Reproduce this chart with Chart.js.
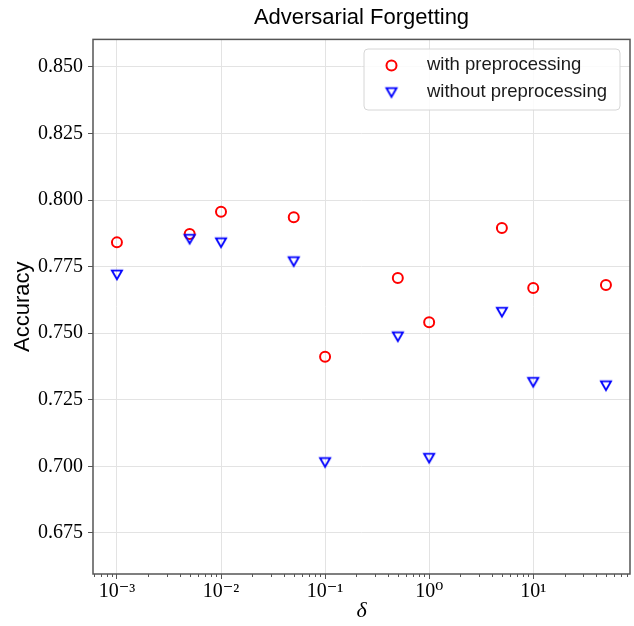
<!DOCTYPE html>
<html>
<head>
<meta charset="utf-8">
<script src="https://cdn.jsdelivr.net/npm/chart.js@4"></script>
<style>
html,body{margin:0;padding:0;background:#fff;}
#wrap{width:634px;height:626px;}
</style>
</head>
<body>
<div id="wrap"><canvas id="c" width="634" height="626"></canvas></div>
<script>
const deltas = [0.001, 0.005, 0.01, 0.05, 0.1, 0.5, 1, 5, 10, 50];
const withPre = [0.7841, 0.7872, 0.7956, 0.7935, 0.7412, 0.7707, 0.7541, 0.7895, 0.7670, 0.7681];
const withoutPre = [0.7719, 0.7853, 0.7840, 0.7769, 0.7015, 0.7487, 0.7031, 0.7579, 0.7316, 0.7303];
const yTicks = [0.675, 0.700, 0.725, 0.750, 0.775, 0.800, 0.825, 0.850];
const xTicks = [0.001, 0.01, 0.1, 1, 10];
const xTickLabels = ['10\u207B\u00B3', '10\u207B\u00B2', '10\u207B\u00B9', '10\u2070', '10\u00B9'];
const seriesLabels = ['with preprocessing', 'without preprocessing'];
const titleText = 'Adversarial Forgetting';

const SANS = "'Liberation Sans', Arial, Helvetica, sans-serif";
const SERIF = "'Liberation Serif', 'DejaVu Serif', serif";
const AXIS = '#555555';
const GRID = '#e3e3e3';

function triCanvas() {
  const cv = document.createElement('canvas');
  cv.width = 16; cv.height = 16;
  const g = cv.getContext('2d');
  g.strokeStyle = '#0000ff';
  g.lineWidth = 1.9;
  g.lineJoin = 'miter';
  g.beginPath();
  g.moveTo(3, 3.6);
  g.lineTo(13, 3.6);
  g.lineTo(8, 12.4);
  g.closePath();
  g.stroke();
  return cv;
}
const tri = triCanvas();

function zeroPad(s) { s.paddingLeft = 0; s.paddingRight = 0; s.paddingTop = 0; s.paddingBottom = 0; }

const framePlugin = {
  id: 'frame',
  afterDatasetsDraw(chart) {
    const {ctx, chartArea: a} = chart;
    const xs = chart.scales.x;
    ctx.save();
    // minor log ticks
    ctx.strokeStyle = AXIS;
    ctx.lineWidth = 1;
    for (let d = -4; d <= 2; d++) {
      for (let k = 2; k <= 9; k++) {
        const v = k * Math.pow(10, d);
        if (v < xs.min || v > xs.max) continue;
        const px = Math.round(xs.getPixelForValue(v)) + 0.5;
        ctx.beginPath();
        ctx.moveTo(px, a.bottom);
        ctx.lineTo(px, a.bottom + 3);
        ctx.stroke();
      }
    }
    ctx.strokeStyle = AXIS;
    ctx.lineWidth = 1.5;
    ctx.strokeRect(a.left, a.top, a.right - a.left, a.bottom - a.top);
    // legend
    const bx = 364, by = 49, bw = 256, bh = 61, r = 4;
    ctx.beginPath();
    ctx.moveTo(bx + r, by);
    ctx.arcTo(bx + bw, by, bx + bw, by + bh, r);
    ctx.arcTo(bx + bw, by + bh, bx, by + bh, r);
    ctx.arcTo(bx, by + bh, bx, by, r);
    ctx.arcTo(bx, by, bx + bw, by, r);
    ctx.closePath();
    ctx.fillStyle = 'rgba(255,255,255,0.85)';
    ctx.fill();
    ctx.strokeStyle = '#d6d6d6';
    ctx.lineWidth = 1;
    ctx.stroke();
    // markers
    ctx.strokeStyle = '#ff0000';
    ctx.lineWidth = 2;
    ctx.beginPath();
    ctx.arc(391.5, 65.5, 5, 0, Math.PI * 2);
    ctx.stroke();
    ctx.drawImage(tri, 391.5 - 8, 92.5 - 8);
    ctx.fillStyle = '#1a1a1a';
    ctx.font = '18.5px ' + SANS;
    ctx.textBaseline = 'middle';
    ctx.textAlign = 'left';
    ctx.fillText(seriesLabels[0], 427, 65);
    ctx.fillText(seriesLabels[1], 427, 92);
    ctx.restore();
  }
};

new Chart(document.getElementById('c'), {
  type: 'scatter',
  data: {
    datasets: [
      {
        label: seriesLabels[1],
        data: deltas.map((x, i) => ({x, y: withoutPre[i]})),
        pointStyle: tri,
        borderColor: '#0000ff',
        backgroundColor: 'rgba(0,0,0,0)',
        order: 0
      },
      {
        label: seriesLabels[0],
        data: deltas.map((x, i) => ({x, y: withPre[i]})),
        pointStyle: 'circle',
        radius: 5,
        borderWidth: 2,
        borderColor: '#ff0000',
        backgroundColor: 'rgba(0,0,0,0)',
        order: 1
      }
    ]
  },
  options: {
    responsive: false,
    animation: false,
    devicePixelRatio: 1,
    layout: {autoPadding: false, padding: {left: 0, right: 4, top: 0, bottom: 0}},
    elements: {point: {radius: 5, hoverRadius: 5}},
    plugins: {
      legend: {display: false},
      tooltip: {enabled: false},
      title: {
        display: true,
        text: titleText,
        fullSize: false,
        color: '#000',
        font: {family: SANS, size: 22, weight: 'normal'},
        padding: {top: 5, bottom: 8}
      }
    },
    scales: {
      x: {
        type: 'logarithmic',
        min: Math.pow(10, -3.23),
        max: Math.pow(10, 1.93),
        afterBuildTicks(s) { s.ticks = xTicks.map(v => ({value: v, major: true})); },
        afterFit(s) { s.height = 52; zeroPad(s); },
        ticks: {
          autoSkip: false,
          maxRotation: 0,
          color: '#000',
          padding: 1,
          font: {family: SERIF, size: 20},
          callback(v) { const i = xTicks.indexOf(v); return i >= 0 ? xTickLabels[i] : ''; }
        },
        grid: {color: GRID, tickColor: AXIS, tickLength: 5, lineWidth: 1},
        border: {display: false},
        title: {
          display: true,
          text: '\u03B4',
          color: '#000',
          font: {family: SERIF, size: 22, style: 'italic'},
          padding: {top: 0, bottom: 2}
        }
      },
      y: {
        type: 'linear',
        min: 0.6596,
        max: 0.8603,
        afterBuildTicks(s) { s.ticks = yTicks.map(v => ({value: v})); },
        afterFit(s) { s.width = 93; zeroPad(s); },
        ticks: {
          color: '#000',
          padding: 5,
          font: {family: SERIF, size: 20},
          callback(v) { return v.toFixed(3); }
        },
        grid: {color: GRID, tickColor: AXIS, tickLength: 5, lineWidth: 1},
        border: {display: false},
        title: {
          display: true,
          text: 'Accuracy',
          color: '#000',
          font: {family: SANS, size: 22},
          padding: {top: 10, bottom: 0}
        }
      }
    }
  },
  plugins: [framePlugin]
});
</script>
</body>
</html>
